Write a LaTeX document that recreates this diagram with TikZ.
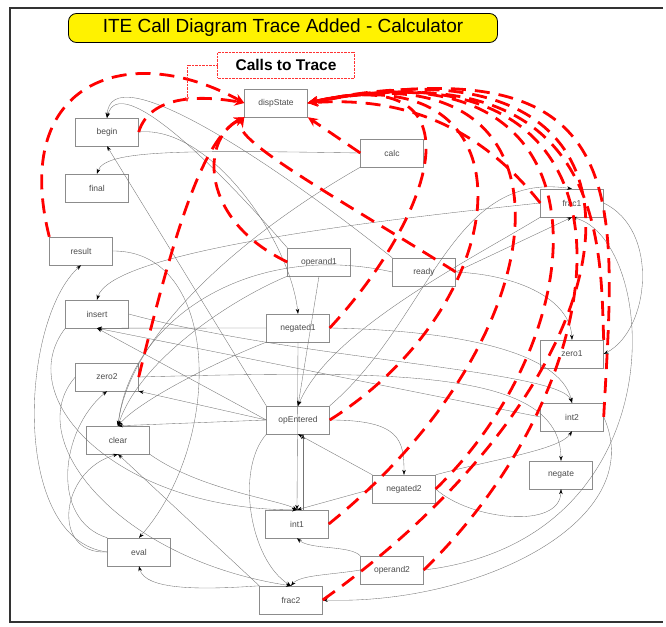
\documentclass[tikz,border=0pt]{standalone}
\usepackage{fontspec}
\setmainfont{Liberation Sans}
\setsansfont{Liberation Sans}
\usetikzlibrary{arrows.meta}
\tikzset{func/.style={draw=black!45,fill=white,minimum width=63pt,minimum height=28pt,inner sep=0pt,font=\fontsize{8.5}{9}\selectfont,text=black!70},
         call/.style={draw=black!55,line width=0.35pt,-{Stealth[length=5pt,width=3.5pt,black]}},
         trace/.style={draw=red,line width=2.8pt,dash pattern=on 15pt off 9pt,-{Stealth[length=10pt,width=9pt,fill=red]}},
         banner/.style={draw=black,thick,fill=yellow,rounded corners=8pt,minimum width=429pt,minimum height=29pt,font=\fontsize{19}{21}\selectfont},
         note/.style={draw=red!80,densely dotted,fill=white,minimum width=137pt,minimum height=26pt,font=\bfseries\fontsize{15.5}{17}\selectfont},
        }

\begin{document}
\begin{tikzpicture}[x=1pt,y=-1pt]
        \useasboundingbox (0,0) rectangle (666,626);
        \fill[white] (0,0) rectangle (666,626);
        \draw[line width=1.6pt,black!80] (663,8)--(10,8)--(10,622)--(663,622);
        % functions
        \node[func](dispState)at(276,103){dispState};
        \node[func](begin)at(107,132){begin};
        \node[func](final)at(97,188){final};
        \node[func](calc)at(392,153){calc};
        \node[func](frac1)at(572,203){frac1};
        \node[func](result)at(81,251){result};
        \node[func](operand1)at(319,262){operand1};
        \node[func](ready)at(424,272){ready};
        \node[func](insert)at(97,314){insert};
        \node[func](negated1)at(298,328){negated1};
        \node[func](zero1)at(572,354){zero1};
        \node[func](zero2)at(107,377){zero2};
        \node[func](opEntered)at(298,420){opEntered};
        \node[func](clear)at(118,440){clear};
        \node[func](int2)at(572,417){int2};
        \node[func](negate)at(561,475){negate};
        \node[func](negated2)at(404,489){negated2};
        \node[func](int1)at(297,524){int1};
        \node[func](eval)at(139,552){eval};
        \node[func](operand2)at(392,570){operand2};
        \node[func](frac2)at(291,600){frac2};
        % calls
        \draw[call](operand1.north west)..controls(220,170)and(120,70)..(begin.north);
        \draw[call](ready.north west)..controls(270,160)and(110,55)..(begin.north);
        \draw[call](begin.east)..controls(210,125)and(290,240)..(negated1.north);
        \draw[call](calc.west)..controls(180,150)and(105,150)..(final.north);
        \draw[call](opEntered.north west)--(begin.south);
        \draw[call](frac1.west)..controls(330,225)and(110,255)..(insert.north);
        \draw[call](result.east)..controls(220,250)and(225,440)..(eval.north);
        \draw[call](eval.west)..controls(10,540)and(20,320)..(result.south);
        \draw[call](calc.south west)..controls(250,230)and(130,330)..(clear.north);
        \draw[call](operand1.south west)..controls(230,300)and(140,360)..(clear.north);
        \draw[call](ready.west)..controls(250,240)and(130,320)..(clear.north);
        \draw[call](negated1.west)--(insert.south);
        \draw[call](int2.west)--(insert.south);
        \draw[call](opEntered.west)--(insert.south);
        \draw[call](opEntered.west)--(clear.north);
        \draw[call](negated1.south west)..controls(220,360)and(140,400)..(clear.north);
        \draw[call](negated2.west)--(int1.north);
        \draw[call](opEntered.east)..controls(400,420)and(404,440)..(negated2.north);
        \draw[call](negated1.south)--(int1.north);
        \draw[call]([xshift=6pt]int1.north)--([xshift=5pt]opEntered.south);
        \draw[call](negated2.north west)--(opEntered.south);
        \draw[call](operand2.north west)..controls(350,545)and(310,550)..(int1.south);
        \draw[call](operand2.west)..controls(330,575)and(300,575)..(frac2.north);
        \draw[call](opEntered.south west)..controls(235,470)and(250,560)..(frac2.north);
        \draw[call](frac2.north west)..controls(200,590)and(145,590)..(eval.south);
        \draw[call](eval.west)..controls(50,555)and(60,470)..(clear.south);
        \draw[call](frac2.north west)--(clear.south);
        \draw[call](zero2.east)..controls(400,370)and(560,370)..(negate.north);
        \draw[call](negated2.east)..controls(470,520)and(560,530)..(negate.south);
        \draw[call](ready.east)..controls(520,275)and(570,300)..(zero1.north);
        \draw[call](ready.east)--(frac1.south);
        \draw[call](int2.east)..controls(650,520)and(480,605)..(frac2.east);
        \draw[call](operand2.east)..controls(680,540)and(660,240)..(frac1.south);
        \draw[call](negated1.east)..controls(450,330)and(560,350)..(int2.north);
        \draw[call](insert.east)..controls(300,360)and(560,370)..(int2.north);
        \draw[call](negated2.north east)..controls(490,460)and(560,450)..(int2.south);
        \draw[call](opEntered.north east)..controls(430,320)and(450,170)..(frac1.north);
        \draw[call](frac1.east)..controls(660,230)and(650,330)..(zero1.east);
        \draw[call](frac1.south west)..controls(470,260)and(330,330)..(opEntered.north);
        \draw[call](opEntered.west)--(zero2.south east);
        \draw[call](eval.north west)..controls(50,520)and(60,430)..(zero2.south);
        \draw[call](insert.south west)..controls(10,400)and(120,510)..(int1.north);
        \draw[call](zero2.west)..controls(20,440)and(120,560)..(frac2.north);
        \draw[call](clear.south east)..controls(200,490)and(280,500)..(int1.north);
        \draw[call](operand1.south)--(opEntered.north);
        % traced calls
        \draw[trace](result.north west)..controls(10,80)and(130,40)..(dispState.west);
        \draw[trace](begin.east)..controls(150,95)and(200,95)..(dispState.west);
        \draw[trace](zero2.east)..controls(170,250)and(200,140)..(dispState.south west);
        \draw[trace](operand1.west)..controls(200,220)and(200,140)..(dispState.south west);
        \draw[trace](ready.east)..controls(350,205)and(230,140)..(dispState.south west);
        \draw[trace](calc.west)--(dispState.south east);
        \draw[trace](frac1.west)..controls(490,140)and(420,95)..(dispState.east);
        \draw[trace](negated1.east)..controls(430,220)and(490,60)..(dispState.east);
        \draw[trace](opEntered.east)..controls(520,300)and(540,50)..(dispState.east);
        \draw[trace](int1.east)..controls(570,330)and(590,40)..(dispState.east);
        \draw[trace](negated2.east)..controls(600,330)and(620,35)..(dispState.east);
        \draw[trace](operand2.east)..controls(630,370)and(660,30)..(dispState.east);
        \draw[trace](frac2.east)..controls(660,360)and(690,20)..(dispState.east);
        \draw[trace](int2.east)..controls(615,200)and(640,40)..(dispState.east);
        \draw[trace](zero1.north east)..controls(600,250)and(610,45)..(dispState.east);
        % title and note
        \node[banner](title)at(283,28){ITE Call Diagram Trace Added - Calculator};
        \node[note](note)at(286,65){Calls to Trace};
        \coordinate(pin)at(187,102);
        \draw[red!80,densely dotted,-{Stealth[length=5pt,width=4pt]}](note.west)-|(pin);
\end{tikzpicture}
\end{document}
